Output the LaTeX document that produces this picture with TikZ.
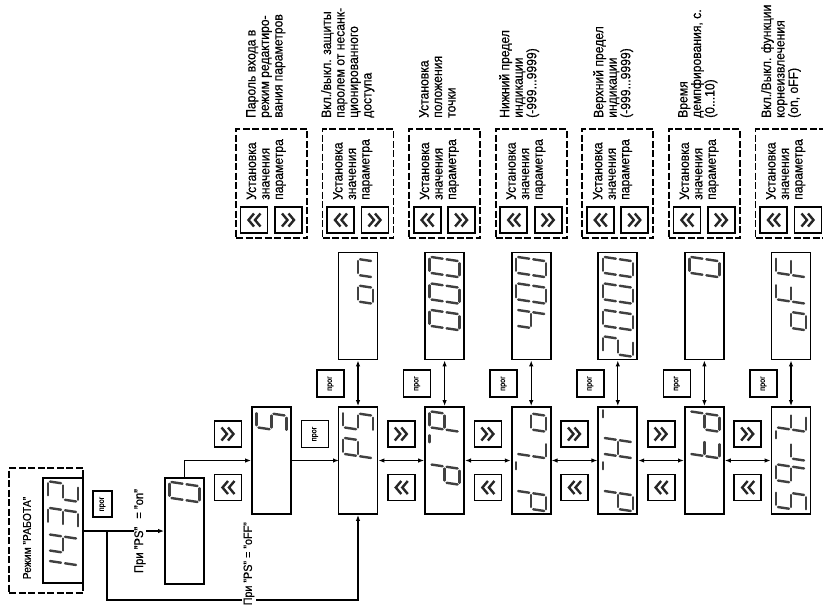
\documentclass[tikz,border=0pt]{standalone}
\usepackage{fontspec}
\setmainfont{Liberation Sans}[FakeStretch=0.9,FakeBold=0.5]
\usetikzlibrary{arrows.meta}
\tikzset{seg/.style={line width=2.4pt,line cap=round,draw=black!75}}
\def\zsga{\draw[seg] (2,15)--(14,15);}
\def\zsgb{\draw[seg] (16,2)--(16,13);}
\def\zsgc{\draw[seg] (16,-13)--(16,-2);}
\def\zsgd{\draw[seg] (2,-15)--(14,-15);}
\def\zsge{\draw[seg] (0,-13)--(0,-2);}
\def\zsgf{\draw[seg] (0,2)--(0,13);}
\def\zsgg{\draw[seg] (2,0)--(14,0);}
\def\zsgm{\draw[seg] (0,15)--(7,15);}
\newcommand\zchr[2]{\begin{scope}[shift={(#1,0)},xslant=0.15]\foreach \s in {#2}{\csname zsg\s\endcsname}\end{scope}}
\newcommand\zdisp[2]{\begin{scope}[shift={(#1.center)},rotate=90,x=1pt,y=1pt]#2\end{scope}}
\begin{document}
\begin{tikzpicture}[x=1pt,y=-1pt,
 every node/.style={inner sep=0pt},
 disp/.style={draw,line width=1.8pt,minimum width=39pt,minimum height=107pt},
 prog/.style={draw,line width=1.6pt,minimum size=27pt,rotate=90,font=\fontsize{8}{8}\selectfont},
 btn/.style={draw,line width=1.8pt,minimum width=27pt,minimum height=26pt},
 chev/.style={line width=2.4pt,draw=black!85},
 chR/.style={btn,path picture={
   \draw[chev] ([shift={(-6.5pt,6.5pt)}]path picture bounding box.center) -- ++(5.5pt,-6.5pt) -- ++(-5.5pt,-6.5pt);
   \draw[chev] ([shift={(0pt,6.5pt)}]path picture bounding box.center) -- ++(5.5pt,-6.5pt) -- ++(-5.5pt,-6.5pt);}},
 chL/.style={btn,path picture={
   \draw[chev] ([shift={(6.5pt,6.5pt)}]path picture bounding box.center) -- ++(-5.5pt,-6.5pt) -- ++(5.5pt,-6.5pt);
   \draw[chev] ([shift={(0pt,6.5pt)}]path picture bounding box.center) -- ++(-5.5pt,-6.5pt) -- ++(5.5pt,-6.5pt);}},
 dbox/.style={draw,line width=1.7pt,dash pattern=on 7pt off 2.5pt},
 conn/.style={line width=1.3pt},
 tip/.style={-{Latex[length=6pt,width=4.5pt]}},
 tips/.style={{Latex[length=6pt,width=4.5pt]}-{Latex[length=6pt,width=4.5pt]}},
 desc/.style={rotate=90,anchor=north west,align=left,font=\fontsize{13.5}{13.5}\selectfont},
 lbl/.style={rotate=90,font=\fontsize{11.5}{12}\selectfont},
]
\useasboundingbox (0,0) rectangle (823,606);
% --- working mode block
\node[draw,line width=1.7pt,dash pattern=on 7pt off 2.5pt,minimum width=74pt,minimum height=125pt] (work) at (46,530.5) {};
\node[lbl] (worktxt) at (27,538) {Режим "РАБОТА"};
\node[disp,minimum width=40pt,minimum height=105pt,fill=white] (d1432) at (63,530.5) {};
\node[prog,minimum width=26pt,minimum height=19pt] (p0) at (102.5,504) {прог};
\node[disp,minimum height=106pt] (d0) at (184.5,531) {};
\node[disp] (d5) at (271.5,460.5) {};
\node[chR] (r0) at (228,434) {};
\node[chL] (l0) at (228,487.5) {};
\node[prog] (pp) at (315,434) {прог};
% connectors on the left
\coordinate (j) at (107,531);
\coordinate (jb) at (107,600);
\draw[conn,tip] (d1432.east |- j) -- (d0.west |- j);
\node[lbl,fill=white,inner xsep=1pt,font=\fontsize{12.5}{13}\selectfont] (ontxt) at (140,531) {При "PS"\hspace{8pt}= "on"};
\draw[conn,tip] (d0.north) |- (d5.west);
\draw[conn,tip] (d5.east) -- (d5.east -| 339,0);
% --- columns
\foreach \i/\c in {1/358,2/444.6,3/531.2,4/617.8,5/704.4,6/791}{
  \node[disp] (u\i) at (\c,306) {};
  \node[disp] (m\i) at (\c,460.5) {};
  \node[prog] (p\i) at (\c-27.5,383.5) {прог};
  \draw[conn,tips] (u\i.south) -- (m\i.north);
}
\foreach \i/\j/\c in {1/2/358,2/3/444.6,3/4/531.2,4/5/617.8,5/6/704.4}{
  \draw[conn,tips] (m\i.east) -- (m\j.west);
  \node[chR] (r\i) at (\c+43.3,434) {};
  \node[chL] (l\i) at (\c+43.3,487.5) {};
}
\draw[conn,tip] (j) -- (jb) -| (m1.south);
\node[lbl,fill=white,anchor=west,inner sep=1.5pt,font=\fontsize{12}{13}\selectfont] (offtxt) at (249,607) {При "PS" = "oFF"};
% --- dashed parameter boxes
\foreach \i/\c in {0/271.5,1/358,2/444.6,3/531.2,4/617.8,5/704.4,6/791}{
  \node[dbox,minimum width=71pt,minimum height=109pt] (b\i) at (\c,183.5) {};
  \node[desc] (bt\i) at (\c-25,200) {Установка\\значения\\параметра};
  \node[chL] (bl\i) at (\c-17.5,220) {};
  \node[chR] (br\i) at (\c+17,220) {};
}
% --- descriptions
\node[desc] (t0) at (246,118) {Пароль входа в\\режим редактиро-\\вания параметров};
\node[desc] (t1) at (321,118) {Вкл./выкл. защиты\\паролем от несанк-\\ционированного\\доступа};
\node[desc] (t2) at (419,118) {Установка\\положения\\точки};
\node[desc] (t3) at (499,118) {Нижний предел\\индикации\\(-999...9999)};
\node[desc] (t4) at (593,118) {Верхний предел\\индикации\\(-999...9999)};
\node[desc] (t5) at (678,118) {Время\\демпфирования, с.\\(0...10)};
\node[desc] (t6) at (761,118) {Вкл./Выкл. функции\\корнеизвлечения\\(on, oFF)};
% --- seven-segment contents
\zdisp{d1432}{\zchr{-48.5}{b,c}\zchr{-22}{f,g,b,c}\zchr{4.5}{a,b,g,c,d}\zchr{31}{a,b,g,e,d}}
\zdisp{d0}{\zchr{31}{a,b,c,d,e,f}}
\zdisp{d5}{\zchr{31}{a,f,g,c,d}}
\zdisp{m1}{\zchr{4.5}{a,b,e,f,g}\zchr{31}{a,f,g,c,d}}
\zdisp{m2}{\zchr{-22}{b,c,d,e,g}\zchr{16}{m}\zchr{31}{a,b,e,f,g}}
\zdisp{m3}{\zchr{-48.5}{b,c,d,e,g}\zchr{-11}{m}\zchr{4.5}{d,e,f}\zchr{31}{c,d,e,g}}
\zdisp{m4}{\zchr{-48.5}{b,c,d,e,g}\zchr{-11}{m}\zchr{4.5}{b,c,e,f,g}\zchr{41}{m}}
\zdisp{m5}{\zchr{4.5}{d,e,f,g}\zchr{31}{b,c,d,e,g}}
\zdisp{m6}{\zchr{-48.5}{a,f,g,c,d}\zchr{-22}{a,b,c,f,g}\zchr{2}{e,g}\zchr{20}{m}\zchr{31}{d,e,f,g}}
\zdisp{u1}{\zchr{4.5}{c,d,e,g}\zchr{31}{c,e,g}}
\zdisp{u2}{\zchr{-22}{a,b,c,d,e,f}\zchr{4.5}{a,b,c,d,e,f}\zchr{31}{a,b,c,d,e,f}}
\zdisp{u3}{\zchr{-22}{f,g,b,c}\zchr{4.5}{a,b,c,d,e,f}\zchr{31}{a,b,c,d,e,f}}
\zdisp{u4}{\zchr{-48.5}{a,b,g,e,d}\zchr{-22}{a,b,c,d,e,f}\zchr{4.5}{a,b,c,d,e,f}\zchr{31}{a,b,c,d,e,f}}
\zdisp{u5}{\zchr{31}{a,b,c,d,e,f}}
\zdisp{u6}{\zchr{-22}{c,d,e,g}\zchr{4.5}{a,e,f,g}\zchr{31}{a,e,f,g}}
\end{tikzpicture}
\end{document}
